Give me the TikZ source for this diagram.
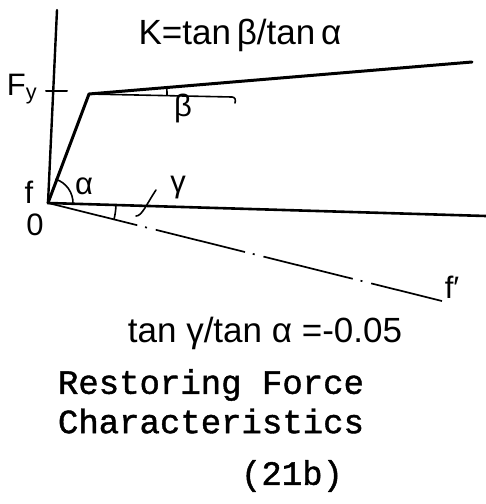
\documentclass[tikz,border=0pt]{standalone}
\usepackage{fontspec}
\setmainfont{Liberation Sans}
\newfontfamily\typew{Liberation Mono}[FakeBold=1.2]
\begin{document}
\begin{tikzpicture}[x=1pt,y=-1pt,
  curve/.style={line width=2.6pt, line cap=round, line join=round},
  thin/.style={line width=1.6pt, line cap=round},
  lbl/.style={inner sep=0pt, font=\fontsize{31}{36}\selectfont},
  big/.style={inner sep=0pt, font=\fontsize{35}{40}\selectfont},
  tw/.style={inner sep=0pt, font=\typew\fontsize{34}{40}\selectfont}]
\useasboundingbox (0,0) rectangle (486,504);
% key points
\coordinate (top) at (57,10);
\coordinate (O) at (48,203);
\coordinate (Y) at (89,94);
\coordinate (P) at (472,62);
\coordinate (H) at (486,216);
\coordinate (F) at (442,301);
\coordinate (R) at (232,97);
% axis
\draw[curve, line width=2.4pt] (top) -- (O);
\draw[thin, line width=2pt] (46,91) -- (67,91);
% skeleton curve
\draw[curve, line width=3pt] (O) -- (Y) -- (P);
\draw[curve] (O) -- (H);
% dash-dot line
\draw[line width=1.7pt, dash pattern=on 92pt off 8pt on 2pt off 9pt] (O) -- (F);
% horizontal reference from yield point with hook
\draw[thin] (Y) -- (R) .. controls (235,97) and (236,100) .. (235,103);
% angle arcs
\draw[thin] (O) ++(-1.7:25pt) arc[start angle=-1.7, end angle=72, radius=25pt];
\draw[thin] (O) ++(-14:68pt) arc[start angle=-14, end angle=-1.7, radius=68pt];
\draw[thin] (Y) ++(-0.8:78pt) arc[start angle=-0.8, end angle=4.8, radius=78pt];
% leader to gamma
\draw[thin] (136,216) .. controls (142,216) and (146,205) .. (156,190);
% labels
\node[big] (K) at (240,35) {K=tan\,β/tan\,α};
\node[lbl] (Fy) at (22,89) {F\textsubscript{y}};
\node[lbl] (f) at (29,192) {f};
\node[lbl] (zero) at (35,225) {0};
\node[lbl] (alpha) at (84,186) {α};
\node[lbl] (beta) at (183,108) {β};
\node[lbl] (gamma) at (178,188) {γ};
\node[lbl] (fp) at (452,287) {f′};
\node[big] (ratio) at (265,333) {tan γ/tan α =-0.05};
\node[tw] (t1) at (211,385) {Restoring Force};
\node[tw] (t2) at (211,421) {Characteristics};
\node[tw] (t3) at (292,476) {(21b)};
\end{tikzpicture}
\end{document}
